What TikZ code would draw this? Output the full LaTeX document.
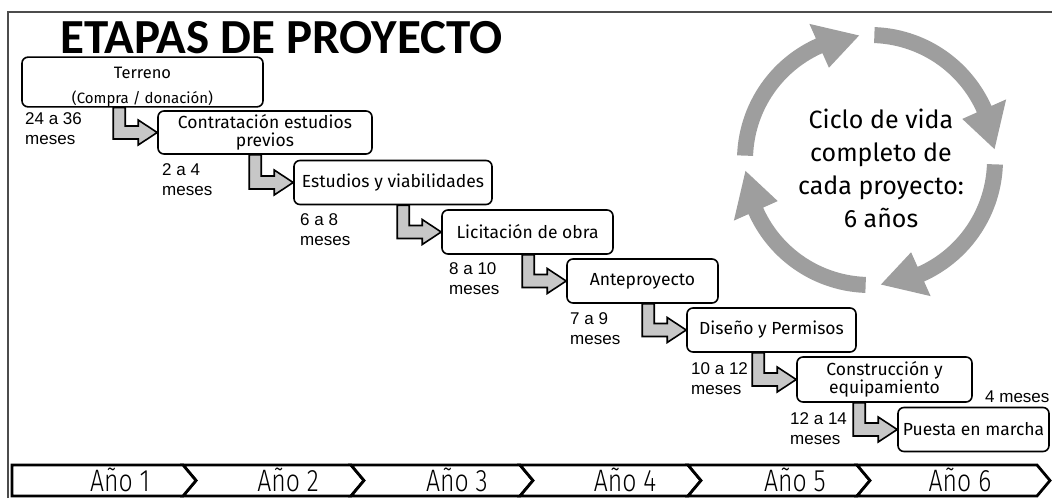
\documentclass[tikz,border=0pt]{standalone}
\usepackage{fontspec}
\setmainfont{Fira Sans}
\newfontfamily\titlefont{Carlito}
\newfontfamily\labfont{Liberation Sans}
\newfontfamily\yearfont[FakeStretch=0.8]{Fira Sans Light}
\usetikzlibrary{calc}
\begin{document}
\begin{tikzpicture}[x=1pt,y=-1pt,
  stage/.style={draw=black, line width=1.6pt, rounded corners=6pt, fill=white,
    inner sep=0pt, align=center, font=\fontsize{17.5}{18.5}\selectfont},
  bentarrow/.style={draw=black, line width=1.6pt, fill=black!22, line join=miter},
  dur/.style={anchor=base west, inner sep=0pt, align=left,
    font=\labfont\fontsize{17}{19.5}\selectfont},
  yearseg/.style={draw=black, line width=2.8pt, fill=white, line join=miter},
  yeartext/.style={anchor=base, inner sep=0pt, font=\yearfont\fontsize{31}{31}\selectfont},
  ringgray/.style={fill=black!38}]
\useasboundingbox (0,0) rectangle (1052,498);
% frame
\draw[black!70, line width=1.4pt] (8,498) -- (8,12) -- (1052,12);
% title
\node[anchor=base west, inner sep=0pt, font=\titlefont\bfseries\fontsize{49}{49}\selectfont]
  (title) at (60,53) {ETAPAS DE PROYECTO};
% stage boxes
\node[stage, minimum width=241, minimum height=44] (b1) at (142.5,82)
  {\fontsize{16.5}{16.5}\selectfont\rule{0pt}{21pt}Terreno\\[7pt]\fontsize{15}{15}\selectfont (Compra / donación)};
\node[stage, minimum width=214, minimum height=43] (b2) at (265,132.5)
  {Contratación estudios\\previos};
\node[stage, minimum width=198, minimum height=44] (b3) at (393,182.5) {Estudios y viabilidades};
\node[stage, minimum width=171, minimum height=44] (b4) at (527.5,232) {Licitación de obra};
\node[stage, minimum width=151, minimum height=44] (b5) at (642.5,281) {Anteproyecto};
\node[stage, minimum width=169, minimum height=44] (b6) at (771.5,330) {Diseño y Permisos};
\node[stage, minimum width=175, minimum height=45] (b7) at (884.5,379.5)
  {Construcción y\\equipamiento};
\node[stage, minimum width=151, minimum height=44] (b8) at (973.5,429.5) {Puesta en marcha};
% bent arrows
\foreach \s/\t in {b1/b2,b2/b3,b3/b4,b4/b5,b5/b6,b6/b7,b7/b8}{
  \draw[bentarrow] let \p1=(\s.south), \p2=(\t.west) in
    (\x2-44pt,\y1) -- (\x2-32pt,\y1) -- (\x2-32pt,\y2+6.5pt) -- (\x2-19pt,\y2+6.5pt)
    -- (\x2-19pt,\y2+12.5pt) -- (\x2,\y2) -- (\x2-19pt,\y2-12.5pt) -- (\x2-19pt,\y2-6.5pt)
    -- (\x2-44pt,\y2-6.5pt) -- cycle;
}
% durations (anchor = baseline of the last line)
\node[dur] (d1) at (25,144) {24 a 36\\meses};
\node[dur] (d2) at (162,195) {2 a 4\\meses};
\node[dur] (d3) at (300,245) {6 a 8\\meses};
\node[dur] (d4) at (449,294) {8 a 10\\meses};
\node[dur] (d5) at (570,344) {7 a 9\\meses};
\node[dur] (d6) at (691,394) {10 a 12\\meses};
\node[dur] (d7) at (790,444) {12 a 14\\meses};
\node[dur] (d8) at (985,402) {4 meses};
% cycle ring
\def\cx{870}\def\cy{160}
\def\R{125}\def\Ro{133}\def\Ri{117}\def\Rh{149}\def\Rhi{101}
\foreach \a/\b/\c in {182/246/265, 272/336/355, 2/66/85, 92/156/175}{
  \fill[ringgray] plot[domain=\a:\b, samples=30] ({\cx+\Ro*cos(\x)},{\cy+\Ro*sin(\x)})
    -- ({\cx+\Rh*cos(\b)},{\cy+\Rh*sin(\b)}) -- ({\cx+\R*cos(\c)},{\cy+\R*sin(\c)})
    -- ({\cx+\Rhi*cos(\b)},{\cy+\Rhi*sin(\b)})
    -- plot[domain=\b:\a, samples=30] ({\cx+\Ri*cos(\x)},{\cy+\Ri*sin(\x)}) -- cycle;
}
\node[align=center, inner sep=0pt, font=\fontsize{25}{33}\selectfont] (cyc) at (881,168)
  {Ciclo de vida\\completo de\\cada proyecto:\\6 años};
% year bar
\foreach \i/\xs/\xe in {2/183/351, 3/351/520, 4/520/688, 5/688/857, 6/857/1037}{
  \draw[yearseg] (\xs,465) -- (\xe,465) -- (\xe+13,480.5) -- (\xe,496) -- (\xs,496)
    -- (\xs+13,480.5) -- cycle;
}
\draw[yearseg] (12,465) -- (183,465) -- (196,480.5) -- (183,496) -- (12,496) -- cycle;
\foreach \i/\xc in {1/120, 2/288, 3/457, 4/625, 5/795, 6/960}{
  \node[yeartext] (y\i) at (\xc,491.5) {Año \i};
}
\end{tikzpicture}
\end{document}
